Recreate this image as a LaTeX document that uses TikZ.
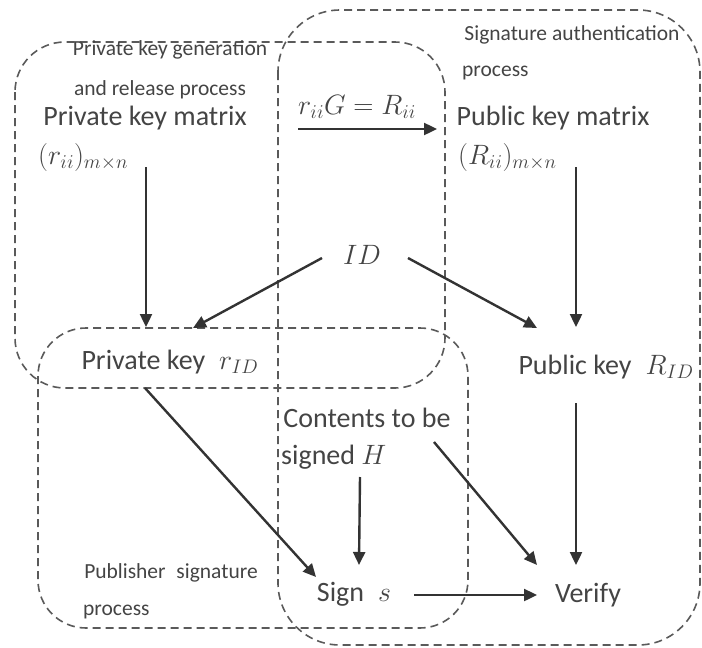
\documentclass[tikz,border=0pt]{standalone}
\usepackage{fix-cm}
\usepackage{fontspec}
\setmainfont{Carlito}
\usetikzlibrary{arrows.meta}
\definecolor{txtc}{HTML}{444444}
\definecolor{dshc}{HTML}{5A5A5A}
\definecolor{arrc}{HTML}{333333}
\begin{document}
\begin{tikzpicture}[x=1pt,y=-1pt,
  big/.style={font=\fontsize{28}{32}\selectfont, text=txtc, inner sep=0pt},
  small/.style={font=\fontsize{21.5}{24}\selectfont, text=txtc, inner sep=0pt},
  region/.style={draw=dshc, dash pattern=on 8pt off 5pt, line width=1.6pt},
  conn/.style={draw=arrc, line width=2.4pt, -{Triangle[length=13pt,width=12pt]}}]
\useasboundingbox (0,0) rectangle (702,648);

% regions
\draw[region, rounded corners=50pt] (15,42) rectangle (445,388);
\draw[region, rounded corners=62pt] (278,10) rectangle (700,645);
\draw[region, rounded corners=48pt] (38,328) rectangle (468,628);

% texts
\node[small] (gen1) at (170,50) {Private key generation};
\node[small] (gen2) at (160,90) {and release process};
\node[big] (pkm) at (145,118) {Private key matrix};
\node[big, anchor=west] (pkmm) at (38,157) {$(r_{ii})_{m\times n}$};
\node[big] (rg) at (357,107) {$r_{ii}G = R_{ii}$};
\node[small] (sa1) at (572,35) {Signature authentication};
\node[small, anchor=west] (sa2) at (462,73) {process};
\node[big] (pubm) at (553,118) {Public key matrix};
\node[big, anchor=west] (pubmm) at (458,157) {$(R_{ii})_{m\times n}$};
\node[big] (id) at (362,255) {$ID$};
\node[big] (pk) at (170,362) {Private key\enspace $r_{ID}$};
\node[big] (pubk) at (606,367) {Public key\enspace $R_{ID}$};
\node[big] (ct1) at (367,418) {Contents to be};
\node[big, anchor=west] (ct2) at (281,457) {signed $H$};
\node[small] (ps1) at (171,573) {Publisher\enspace signature};
\node[small, anchor=west] (ps2) at (83,612) {process};
\node[big] (sign) at (354,594) {Sign\enspace $s$};
\node[big] (verify) at (588,595) {Verify};

% connector end points
\coordinate (pkmS) at (146,167);
\coordinate (pkN) at (146,327);
\coordinate (pubmS) at (576,167);
\coordinate (pubkN) at (576,327);
\coordinate (rgW) at (298,129);
\coordinate (rgE) at (437,129);
\coordinate (idW) at (322,258);
\coordinate (pkNE) at (193,328);
\coordinate (idE) at (408,258);
\coordinate (pubkNW) at (537,328);
\coordinate (pkS) at (145,388);
\coordinate (signNW) at (316,577);
\coordinate (ctS) at (360,477);
\coordinate (signN) at (359,565);
\coordinate (ctE) at (434,442);
\coordinate (verNW) at (537,565);
\coordinate (pubkS) at (576,403);
\coordinate (verN) at (576,565);
\coordinate (signE) at (414,595);
\coordinate (verW) at (537,595);

% connectors
\draw[conn] (pkmS) -- (pkN);
\draw[conn] (pubmS) -- (pubkN);
\draw[conn] (rgW) -- (rgE);
\draw[conn] (idW) -- (pkNE);
\draw[conn] (idE) -- (pubkNW);
\draw[conn] (pkS) -- (signNW);
\draw[conn] (ctS) -- (signN);
\draw[conn] (ctE) -- (verNW);
\draw[conn] (pubkS) -- (verN);
\draw[conn] (signE) -- (verW);
\end{tikzpicture}
\end{document}
